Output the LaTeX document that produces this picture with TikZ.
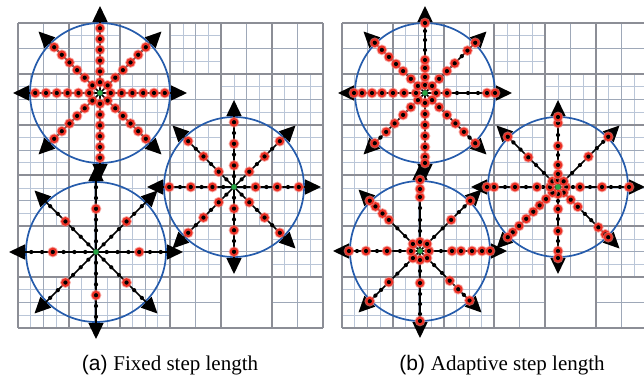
\documentclass[tikz,border=0pt]{standalone}
\usepackage{fontspec}
\setmainfont{Liberation Serif}
\setsansfont{Liberation Sans}
\usetikzlibrary{arrows.meta}
\definecolor{luoichinh}{RGB}{140,142,150}
\definecolor{luoiphu}{RGB}{186,198,216}
\definecolor{vongxanh}{RGB}{38,92,172}
\definecolor{dodo}{RGB}{236,48,36}
\definecolor{xanhla}{RGB}{40,165,70}
\begin{document}
\begin{tikzpicture}[x=1pt,y=-1pt]
	\draw[draw=none](0,0)rectangle(644,381);
	\clip(0,0)rectangle(644,381);
	\fill[white](0,0)rectangle(644,381);
	\def\cs{50.8}
	\tikzset{
	chinh/.style={draw=luoichinh,line width=1.9},
	nua/.style={draw=luoiphu!85!black,line width=0.9},
	tu/.style={draw=luoiphu,line width=0.8},
	vong/.style={draw=vongxanh,line width=1.7},
	tia/.style={line width=1.5,-{Triangle[length=16pt,width=15pt]}},
	}
	\tikzset{luoi/.pic={
	\foreach \hg [count=\rr from 0] in {{1,2,1,2,1,1},{2,1,2,1,2,2},{2,1,1,2,1,2},{2,1,2,2,2,2},{1,1,2,2,1,2},{2,2,2,1,0,1}}{
	\foreach \lv [count=\cl from 0] in \hg{
	\ifnum\lv>1
	\foreach \q in {0.25,0.75}{
	\draw[tu](\cl*\cs+\q*\cs,\rr*\cs)--++(0,\cs);
	\draw[tu](\cl*\cs,\rr*\cs+\q*\cs)--++(\cs,0);
	}\fi
	\ifnum\lv>0
	\draw[nua](\cl*\cs+0.5*\cs,\rr*\cs)--++(0,\cs)(\cl*\cs,\rr*\cs+0.5*\cs)--++(\cs,0);
	\fi
	}}
	\foreach \i in {0,...,6}
	\draw[chinh](\i*\cs,0)--(\i*\cs,6*\cs)(0,\i*\cs)--(6*\cs,\i*\cs);
	}}
	\tikzset{pics/saoA/.style={code={
	\draw[vong](0,0)circle(70);
	\foreach \a in {0,45,...,315}{
	\draw[tia](0,0)--(\a:87);
	\foreach \h [count=\k] in {#1}{
	\ifnum\h>0 \fill[dodo!60,opacity=0.7](\a:\k*10.8)circle(5.4);\fill[dodo](\a:\k*10.8)circle(4.4);\fi
	\fill(\a:\k*10.8)circle(2.1);
	}}
	\fill[xanhla](0,0)circle(2.8);
	}}}
	\tikzset{pics/saoB/.style={code={
	\draw[vong](0,0)circle(70);
	\foreach \a/\l in {#1}{
	\draw[tia](0,0)--(\a:87);
	\foreach \d/\h in \l{
	\ifnum\h>0 \fill[dodo!60,opacity=0.7](\a:\d)circle(5.4);\fill[dodo](\a:\d)circle(4.4);\fi
	\fill(\a:\d)circle(2.1);
	}}
	\fill[xanhla](0,0)circle(2.8);
	}}}
	\path(18,23)pic{luoi}(342,23)pic{luoi};
	\path(100,93)coordinate(A1)(234,187)coordinate(A2)(96,252)coordinate(A3);
	\path(425,93)coordinate(B1)(558,187)coordinate(B2)(420,251)coordinate(B3);
	\path(A1)pic{saoA={1,1,1,1,1,1}}(A2)pic{saoA={0,1,0,1,0,1}}(A3)pic{saoA={0,0,0,1,0,0}};
	\path(B1)pic{saoB={0/{11/1,22/1,32/0,43/0,53/0,62/1,70/1},45/{10/1,20/1,31/1,43/1,55/1,63/0,71/1},90/{10/1,21/1,32/1,43/1,54/1,64/1,70/1},135/{10/1,20/1,31/1,43/1,55/1,63/0,71/1},180/{9/1,21/1,32/1,43/1,53/1,63/1,71/1},225/{10/1,20/1,31/1,41/1,51/1,61/1,71/1},270/{8/1,16/1,25/1,33/1,43/0,53/0,62/0,70/1},315/{10/1,20/1,31/1,42/1,52/0,60/1,71/1}}};
	\path(B2)pic{saoB={0/{8/1,15/0,22/1,32/0,44/1,53/0,62/0,71/1},45/{8/1,18/1,28/1,38/0,47/0,57/1,67/1,71/1},90/{7/1,14/0,22/1,32/0,44/1,54/0,64/1,71/1},135/{8/1,17/1,26/1,35/1,45/1,55/1,64/1,71/1},180/{8/1,15/0,21/1,32/0,43/1,53/0,64/1,71/1},225/{8/1,20/0,31/0,42/1,53/0,63/0,71/1},270/{7/1,13/1,22/1,32/0,41/1,52/0,64/1,70/1},315/{8/1,20/0,31/0,43/1,55/0,64/0,71/1}}};
	\path(B3)pic{saoB={0/{9/1,21/0,32/1,41/1,52/1,62/1,70/1},45/{10/1,20/0,31/0,42/1,54/1,62/0,70/1},90/{9/1,20/0,32/1,43/0,53/0,63/0,70/1},135/{10/1,20/0,32/0,44/1,55/0,63/0,71/1},180/{9/1,20/0,33/1,43/0,54/1,63/0,71/1},225/{10/1,21/0,32/0,44/1,53/1,63/1,71/1},270/{9/1,20/0,31/0,43/0,54/1,62/1,71/1},315/{10/1,20/0,32/0,44/1,55/0,63/0,71/1}}};
	\node[anchor=base,font=\fontsize{21}{25}\selectfont](capA)at(170,370){\sffamily(a) \rmfamily Fixed step length};
	\node[anchor=base,font=\fontsize{21}{25}\selectfont](capB)at(502,370){\sffamily(b) \rmfamily Adaptive step length};
\end{tikzpicture}
\end{document}
